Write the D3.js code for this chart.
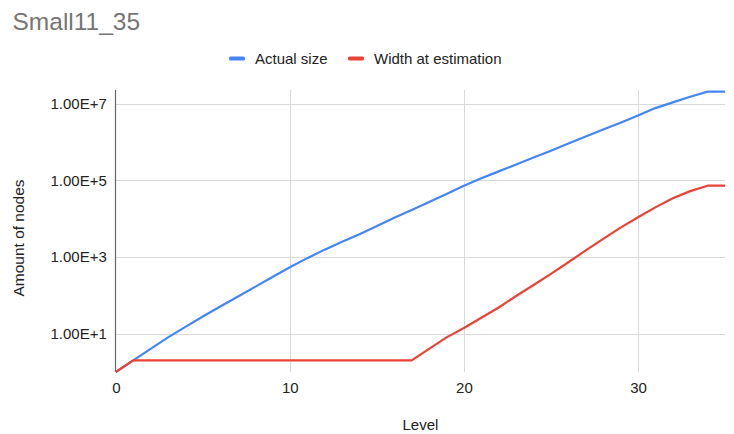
<!DOCTYPE html>
<html>
<head>
<meta charset="utf-8">
<script src="https://cdn.jsdelivr.net/npm/d3@7"></script>
<style>
  html, body { margin: 0; padding: 0; background: #ffffff; }
  svg { display: block; font-family: "Liberation Sans", Arial, sans-serif; }
</style>
</head>
<body>
<svg id="chart" width="734" height="434"></svg>
<script>
// Levels of the search tree
const levels = d3.range(0, 36);

// Number of nodes at each level
const actualSize = [
  1, 2, 4, 8, 15, 28, 51, 92, 166, 300,
  540, 930, 1550, 2500, 3900, 6400, 10500, 16700, 27000, 44000,
  72000, 112000, 170000, 257000, 390000, 590000, 910000, 1380000, 2090000, 3160000,
  4900000, 7600000, 10700000, 15000000, 20400000, 20400000
];

// Width used at estimation for each level
const widthAtEstimation = [
  1, 2, 2, 2, 2, 2, 2, 2, 2, 2,
  2, 2, 2, 2, 2, 2, 2, 2, 4, 8,
  14, 26, 48, 96, 186, 363, 725, 1480, 2950, 5800,
  10800, 19600, 34000, 52000, 72000, 72000
];

const seriesNames = ["Actual size", "Width at estimation"];
const seriesColors = ["#4285F4", "#EA4335"];
const xTicks = [0, 10, 20, 30];
const yTicks = [1e1, 1e3, 1e5, 1e7];
const yMax = 2.25e7;

const plot = { left: 115.8, right: 725, top: 90, bottom: 372 };

const svg = d3.select("#chart");

const x = d3.scaleLinear().domain([0, 35]).range([plot.left, plot.right]);
const y = d3.scaleLog().domain([1, yMax]).range([plot.bottom, plot.top]);

// Title
svg.append("text")
  .attr("x", 12.5).attr("y", 30)
  .attr("font-size", 24.5)
  .attr("fill", "#757575")
  .text("Small11_35");

// Gridlines
const grid = svg.append("g").attr("stroke", "#d9d9d9").attr("stroke-width", 1);
grid.selectAll("line.h").data(yTicks).join("line")
  .attr("x1", plot.left).attr("x2", plot.right)
  .attr("y1", d => Math.round(y(d)) + 0.5).attr("y2", d => Math.round(y(d)) + 0.5);
grid.selectAll("line.v").data(xTicks.filter(d => d !== 0)).join("line")
  .attr("y1", plot.top).attr("y2", plot.bottom)
  .attr("x1", d => Math.round(x(d)) + 0.5).attr("x2", d => Math.round(x(d)) + 0.5);

// Axes
const yAxis = d3.axisLeft(y)
  .tickValues(yTicks)
  .tickSize(0)
  .tickPadding(9)
  .tickFormat(d => "1.00E+" + Math.round(Math.log10(d)));
const gy = svg.append("g").attr("transform", `translate(${plot.left},0)`).call(yAxis);
gy.select(".domain").remove();
gy.selectAll("text").attr("font-size", 15).attr("fill", "#222").attr("font-family", "Liberation Sans, Arial, sans-serif");

const xAxis = d3.axisBottom(x).tickValues(xTicks).tickSize(0).tickPadding(10);
const gx = svg.append("g").attr("transform", `translate(0,${plot.bottom})`).call(xAxis);
gx.select(".domain").remove();
gx.selectAll("text").attr("font-size", 15).attr("fill", "#222").attr("font-family", "Liberation Sans, Arial, sans-serif");

// Left axis line
svg.append("line")
  .attr("x1", Math.round(plot.left) - 0.5).attr("x2", Math.round(plot.left) - 0.5)
  .attr("y1", plot.top).attr("y2", plot.bottom)
  .attr("stroke", "#666").attr("stroke-width", 1.2);

// Axis titles
svg.append("text")
  .attr("x", (plot.left + plot.right) / 2).attr("y", 430)
  .attr("text-anchor", "middle")
  .attr("font-size", 15).attr("fill", "#222")
  .text("Level");

svg.append("text")
  .attr("transform", `translate(24,238) rotate(-90)`)
  .attr("text-anchor", "middle")
  .attr("font-size", 15.5).attr("fill", "#222")
  .text("Amount of nodes");

// Series lines
const line = d3.line().x((d, i) => x(levels[i])).y(d => y(d));
[actualSize, widthAtEstimation].forEach((s, k) => {
  svg.append("path")
    .datum(s)
    .attr("fill", "none")
    .attr("stroke", seriesColors[k])
    .attr("stroke-width", 2.2)
    .attr("stroke-linejoin", "round")
    .attr("d", line);
});

// Legend
const legendItems = [
  { name: seriesNames[0], color: seriesColors[0], x: 229 },
  { name: seriesNames[1], color: seriesColors[1], x: 348 }
];
const lg = svg.append("g");
legendItems.forEach(it => {
  lg.append("rect")
    .attr("x", it.x).attr("y", 56.5)
    .attr("width", 16).attr("height", 4).attr("rx", 1.5)
    .attr("fill", it.color);
  lg.append("text")
    .attr("x", it.x + 26).attr("y", 63.5)
    .attr("font-size", 15).attr("fill", "#222")
    .text(it.name);
});
</script>
</body>
</html>
